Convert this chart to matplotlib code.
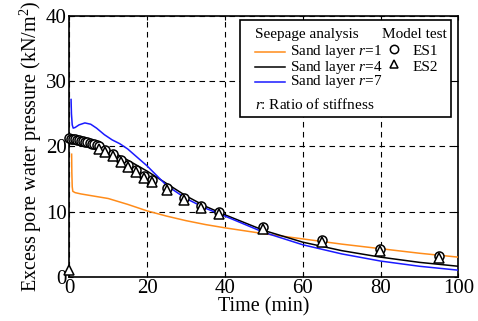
import matplotlib
matplotlib.use("Agg")
import matplotlib.pyplot as plt
from matplotlib.patches import Rectangle

# Seepage analysis curves (time in min, pressure in kN/m2)
t_r1 = [0.6, 0.65, 0.75, 0.9, 1.5, 3, 5, 10, 15, 20, 25, 30, 35, 40, 50, 60, 70, 80, 90, 100]
p_r1 = [18.8, 16.0, 13.8, 13.1, 12.9, 12.7, 12.5, 12.0, 11.1, 10.1, 9.3, 8.6, 8.0, 7.5, 6.6, 5.8, 5.0, 4.3, 3.6, 3.0]

t_r4 = [0.5, 1, 2, 5, 8, 10, 15, 20, 25, 30, 35, 40, 50, 60, 70, 80, 90, 100]
p_r4 = [21.5, 21.2, 21.0, 20.6, 20.0, 19.5, 17.9, 16.2, 14.3, 12.4, 10.8, 9.5, 7.1, 5.3, 4.0, 3.0, 2.2, 1.6]

t_r7 = [0.45, 0.55, 0.75, 1, 1.5, 2.5, 4, 5.5, 7, 9, 11, 13, 15, 20, 25, 30, 35, 40, 50, 60, 70, 80, 90, 100]
p_r7 = [27.2, 25.0, 23.3, 22.8, 22.9, 23.3, 23.6, 23.4, 22.8, 21.8, 21.0, 20.4, 19.6, 17.0, 14.0, 12.0, 10.5, 9.3, 6.8, 4.9, 3.5, 2.4, 1.6, 1.0]

# Model test data
t_es1 = [0.0, 0.5, 1.0, 1.5, 2.0, 2.5, 3.0, 3.5, 4.0, 4.6, 5.2, 5.8, 6.4, 7.0, 7.6,
         9.2, 11.3, 13.2, 15.2, 17.1, 19.2, 21.3, 25.0, 29.4, 33.9, 38.4, 49.9, 64.9, 79.9, 94.9]
p_es1 = [21.3, 21.2, 21.2, 21.1, 21.0, 21.0, 20.9, 20.8, 20.7, 20.6, 20.5, 20.4, 20.3, 20.2, 20.0,
         19.4, 18.8, 17.9, 17.1, 16.3, 15.5, 14.8, 13.6, 12.1, 10.9, 9.9, 7.6, 5.7, 4.3, 3.2]

t_es2 = [0, 7.6, 9.2, 11.3, 13.2, 15.2, 17.1, 19.2, 21.3, 25.0, 29.4, 33.9, 38.4, 49.9, 64.9, 79.9, 94.9]
p_es2 = [1.0, 19.6, 19.1, 18.5, 17.6, 16.8, 16.0, 15.2, 14.5, 13.3, 11.8, 10.6, 9.6, 7.3, 5.4, 4.0, 2.9]

plt.rcParams['font.family'] = 'Liberation Serif'
plt.rcParams['mathtext.fontset'] = 'custom'
plt.rcParams['mathtext.rm'] = 'Liberation Serif'
plt.rcParams['mathtext.it'] = 'Liberation Serif:italic'

fig = plt.figure(figsize=(4.78, 3.21), dpi=100)
ax = fig.add_axes([0.145, 0.138, 0.814, 0.812])

ax.plot(t_r1, p_r1, color='#ff8c1a', lw=1.1, zorder=3)
ax.plot(t_r4, p_r4, color='black', lw=1.1, zorder=3)
ax.plot(t_r7, p_r7, color='#1a1aff', lw=1.1, zorder=3)

mk = dict(ls='none', mfc='white', mec='black', mew=1.1, zorder=4, clip_on=False)
ax.plot(t_es1, p_es1, marker='o', ms=6.5, **mk)
ax.plot(t_es2, p_es2, marker='^', ms=7, **mk)

ax.set_xlim(0, 100)
ax.set_ylim(0, 40)
ax.set_xticks(range(0, 101, 20))
ax.set_yticks(range(0, 41, 10))
ax.grid(True, color='black', ls=(0, (5, 4)), lw=0.8)
ax.tick_params(direction='in', top=True, right=True, labelsize=15, length=3, pad=2)
for s in ax.spines.values():
    s.set_linewidth(1.2)
ax.set_xlabel('Time (min)', fontsize=14.5, labelpad=-1)
ax.set_ylabel('Excess pore water pressure (kN/m$^2$)', fontsize=14.5, labelpad=1)

# legend drawn by hand (two groups with headers)
tr = ax.transAxes
ax.add_patch(Rectangle((0.439, 0.612), 0.542, 0.373, transform=tr,
                       facecolor='white', edgecolor='black', lw=1.2, zorder=5))
fs = 11
ax.text(0.477, 0.930, 'Seepage analysis', transform=tr, fontsize=fs, va='center', zorder=6)
ax.text(0.803, 0.930, 'Model test', transform=tr, fontsize=fs, va='center', zorder=6)
rows = [0.863, 0.804, 0.748]
names = ['Sand layer $r$=1', 'Sand layer $r$=4', 'Sand layer $r$=7']
colors = ['#ff8c1a', 'black', '#1a1aff']
for y, n, c in zip(rows, names, colors):
    ax.plot([0.477, 0.555], [y, y], color=c, lw=1.1, transform=tr, zorder=6)
    ax.text(0.566, y, n, transform=tr, fontsize=fs, va='center', zorder=6)
for y, m, n in zip(rows[:2], ['o', '^'], ['ES1', 'ES2']):
    ax.plot([0.834], [y + 0.012], marker=m, ms=6, mfc='white', mec='black', mew=1.1,
            transform=tr, zorder=6, clip_on=False)
    ax.text(0.882, y, n, transform=tr, fontsize=fs, va='center', zorder=6)
ax.text(0.477, 0.661, '$r$: Ratio of stiffness', transform=tr, fontsize=fs, va='center', zorder=6)

fig.savefig('out.png', dpi=100)
